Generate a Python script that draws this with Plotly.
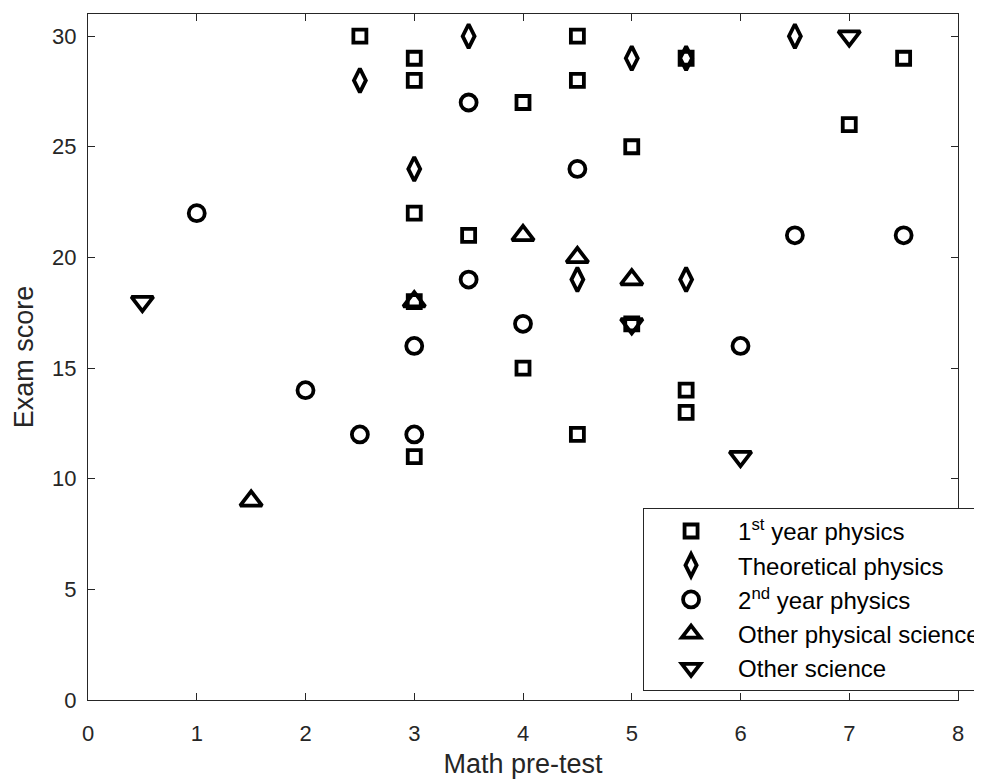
import plotly.graph_objects as go

names = ["1<sup>st</sup> year physics", "Theoretical physics", "2<sup>nd</sup> year physics",
         "Other physical science", "Other science"]
symbols = ["square-open", "diamond-tall-open", "circle-open", "triangle-up-open", "triangle-down-open"]
sizes = [13, 17, 16, 19, 19]

first_x = [2.5, 3, 3, 4.5, 4.5, 4, 5, 7, 7.5, 3, 3.5, 4, 5.5, 5.5, 4.5, 3, 5.5, 3, 5]
first_y = [30, 29, 28, 30, 28, 27, 25, 26, 29, 22, 21, 15, 14, 13, 12, 11, 29, 18, 17]

theo_x = [2.5, 3.5, 5, 5.5, 6.5, 3, 4.5, 5.5]
theo_y = [28, 30, 29, 29, 30, 24, 19, 19]

second_x = [1, 3.5, 4.5, 3.5, 4, 3, 2, 2.5, 3, 6, 6.5, 7.5]
second_y = [22, 27, 24, 19, 17, 16, 14, 12, 12, 16, 21, 21]

ophys_x = [1.5, 3, 4, 4.5, 5]
ophys_y = [9, 18, 21, 20, 19]

osci_x = [0.5, 5, 6, 7]
osci_y = [18, 17, 11, 30]

xs = [first_x, theo_x, second_x, ophys_x, osci_x]
ys = [first_y, theo_y, second_y, ophys_y, osci_y]

fig = go.Figure()
for i in range(5):
    fig.add_trace(go.Scatter(
        x=xs[i], y=ys[i], mode="markers", name=names[i], legendgroup=str(i),
        marker=dict(symbol=symbols[i], size=sizes[i], color="black",
                    line=dict(color="black", width=3.8)),
    ))

sans = "Liberation Sans, Arial, sans-serif"
axis_common = dict(showline=True, linecolor="#262626", linewidth=1, mirror="ticks",
                   ticks="inside", ticklen=7, tickcolor="#262626", showgrid=False,
                   zeroline=False, tickfont=dict(size=22, color="#262626", family=sans))
fig.update_xaxes(range=[0, 8], dtick=1, ticklabelstandoff=14,
                 title=dict(text="Math pre-test", standoff=8,
                            font=dict(size=27, color="#262626", family=sans)), **axis_common)
fig.update_yaxes(range=[0, 31], tickvals=[0, 5, 10, 15, 20, 25, 30], ticklabelstandoff=6,
                 title=dict(text="Exam score", standoff=10,
                            font=dict(size=27, color="#262626", family=sans)), **axis_common)

fig.update_layout(
    width=974, height=773,
    margin=dict(l=80, r=24, t=6, b=81, autoexpand=False),
    plot_bgcolor="white", paper_bgcolor="white",
    font=dict(family=sans, color="#262626"),
    legend=dict(x=0.638, y=0.28, xanchor="left", yanchor="top",
                bordercolor="#262626", borderwidth=1, bgcolor="white",
                font=dict(size=24, color="black"), tracegroupgap=0,
                itemwidth=84),
)

fig.write_html("out.html")
